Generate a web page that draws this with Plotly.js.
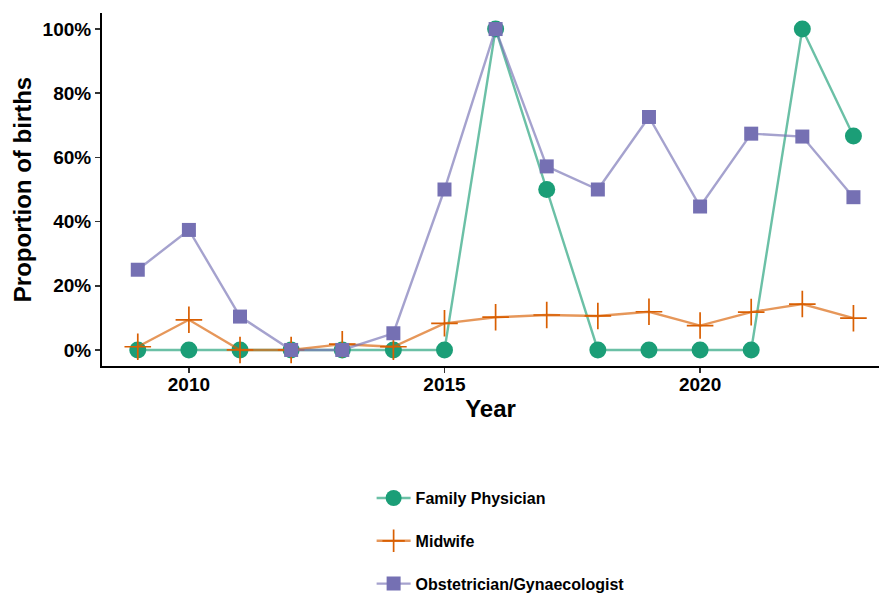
<!DOCTYPE html>
<html>
<head>
<meta charset="utf-8">
<script src="https://cdn.plot.ly/plotly-3.0.1.min.js"></script>
<style>html,body{margin:0;padding:0;background:#fff;}#chart{width:879px;height:594px;}</style>
</head>
<body>
<div id="chart"></div>
<script>
const years = [2009,2010,2011,2012,2013,2014,2015,2016,2017,2018,2019,2020,2021,2022,2023];
const familyPhysician = [0,0,0,0,0,0,0,1,0.5,0,0,0,0,1,0.667];
const midwife = [0.01,0.094,0,0,0.018,0.01,0.083,0.102,0.109,0.106,0.119,0.076,0.118,0.143,0.099];
const obGyn = [0.25,0.374,0.104,0,0,0.052,0.5,1,0.572,0.5,0.726,0.447,0.674,0.665,0.476];
const seriesNames = ["Family Physician","Midwife","Obstetrician/Gynaecologist"];
const xTicks = [2010,2015,2020];
const yTicks = [0,0.2,0.4,0.6,0.8,1];
const yTickLabels = ["0%","20%","40%","60%","80%","100%"];

const font = "Liberation Sans, Arial, Helvetica, sans-serif";
const traces = [
  {x: years, y: familyPhysician, name: seriesNames[0], legendgroup: "a", mode: "lines+markers",
   line: {color: "rgba(27,158,119,0.65)", width: 2.4},
   marker: {color: "#1B9E77", size: 17, symbol: "circle"}},
  {x: years, y: midwife, name: seriesNames[1], legendgroup: "b", mode: "lines+markers",
   line: {color: "rgba(217,95,2,0.65)", width: 2.4},
   marker: {color: "#D95F02", size: 19, symbol: "cross-thin-open", line: {color: "#D95F02", width: 1.7}}},
  {x: years, y: obGyn, name: seriesNames[2], legendgroup: "c", mode: "lines+markers",
   line: {color: "rgba(117,112,179,0.65)", width: 2.4},
   marker: {color: "#7570B3", size: 14, symbol: "square"}}
];

const layout = {
  width: 879, height: 594,
  margin: {l: 102, r: 0, t: 13, b: 228, autoexpand: false},
  paper_bgcolor: "#fff", plot_bgcolor: "#fff",
  font: {family: font, color: "#000"},
  showlegend: true,
  legend: {x: 0.347, xanchor: "left", y: -0.326, yanchor: "top", orientation: "v",
           itemwidth: 34, tracegroupgap: 19, font: {family: font, size: 16, weight: "bold", color: "#000"}},
  xaxis: {range: [2008.3, 2023.5], tickvals: xTicks, ticktext: xTicks.map(String),
          showgrid: false, zeroline: false, showline: true, linecolor: "#000", linewidth: 2,
          ticks: "outside", ticklen: 5, tickwidth: 1.5, tickcolor: "#333", ticklabelstandoff: -5,
          tickfont: {family: font, size: 19, weight: "bold", color: "#000"},
          title: {text: "Year", font: {family: font, size: 24, weight: "bold", color: "#000"}, standoff: 3}},
  yaxis: {range: [-0.05, 1.05], tickvals: yTicks, ticktext: yTickLabels,
          showgrid: false, zeroline: false, showline: true, linecolor: "#000", linewidth: 2,
          ticks: "outside", ticklen: 5, tickwidth: 1.5, tickcolor: "#333",
          tickfont: {family: font, size: 19, weight: "bold", color: "#000"},
          title: {text: "Proportion of births", font: {family: font, size: 24, weight: "bold", color: "#000"}, standoff: 4}}
};
Plotly.newPlot("chart", traces, layout, {displayModeBar: false, staticPlot: true});
</script>
</body>
</html>
